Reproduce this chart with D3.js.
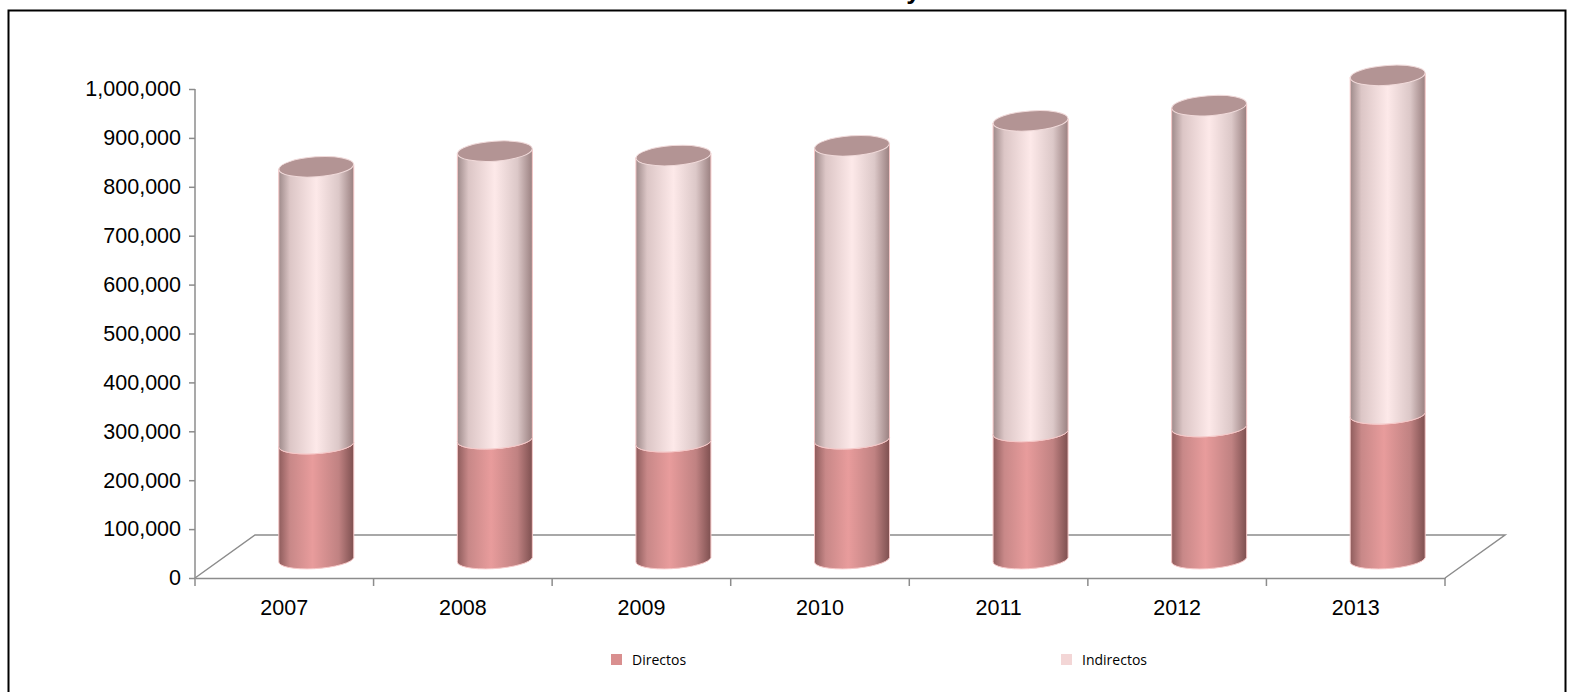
<!DOCTYPE html>
<html><head><meta charset="utf-8">
<script src="https://cdn.jsdelivr.net/npm/d3@7"></script>
<style>body{margin:0;background:#fff}</style>
</head><body>
<svg id="chart" width="1574" height="692"></svg>
<script>
var years = ["2007","2008","2009","2010","2011","2012","2013"];
var directos = [235000, 245000, 239000, 245000, 260000, 270000, 296000];
var indirectos = [568000, 590000, 587000, 601000, 637000, 658000, 694000];
var yTicks = [0,100000,200000,300000,400000,500000,600000,700000,800000,900000,1000000];

var svg = d3.select("#chart");
var plotLeft = 195, plotRight = 1445, plotBottom = 578, plotTop = 89;
var dx = 60, dy = -43; // floor depth
var x = d3.scaleBand().domain(years).range([plotLeft, plotRight]);
var y = d3.scaleLinear().domain([0, 1000000]).range([plotBottom, plotTop]);

svg.append("rect").attr("x", 8.5).attr("y", 10.5).attr("width", 1557).attr("height", 700)
  .attr("fill", "none").attr("stroke", "#000").attr("stroke-width", 2);
svg.append("text").attr("x", 890).attr("y", -1).attr("text-anchor", "middle")
  .attr("font-family", "Liberation Sans").attr("font-weight", "bold").attr("font-size", 26)
  .text("Total Directos y Indirectos");

// gradients
var defs = svg.append("defs");
function grad(id, stops) {
  var g = defs.append("linearGradient").attr("id", id);
  stops.forEach(function(s) { g.append("stop").attr("offset", s[0]).attr("stop-color", s[1]); });
}
grad("gDir", [[0,"#8e5c5c"],[0.15,"#c88888"],[0.45,"#e89c9c"],[0.8,"#c08282"],[1,"#7e5050"]]);
grad("gInd", [[0,"#9e8a8a"],[0.15,"#dcc6c6"],[0.5,"#fde9e9"],[0.8,"#dcc8c8"],[1,"#9a8080"]]);

// floor
var grey = "#8c8c8c";
svg.append("path").attr("fill", "none").attr("stroke", grey).attr("stroke-width", 1.5)
  .attr("d", "M" + plotLeft + "," + plotBottom + "L" + (plotLeft + dx) + "," + (plotBottom + dy) +
    "L" + (plotRight + dx) + "," + (plotBottom + dy) + "L" + plotRight + "," + plotBottom);

// y axis
var yAxis = svg.append("g").attr("transform", "translate(" + plotLeft + ",0)")
  .call(d3.axisLeft(y).tickValues(yTicks).tickSize(6).tickPadding(8).tickFormat(d3.format(",")));
yAxis.selectAll("text").attr("font-family", "Liberation Sans").attr("font-size", 21.5).attr("fill", "#000");
yAxis.selectAll("line,path").attr("stroke", grey).attr("stroke-width", 1.5);
yAxis.select(".domain").attr("d", "M0," + plotTop + "V" + plotBottom);

// x axis
var xAxis = svg.append("g").attr("transform", "translate(0," + plotBottom + ")")
  .call(d3.axisBottom(x).tickSize(0).tickPadding(22));
xAxis.selectAll("text").attr("font-family", "Liberation Sans").attr("font-size", 21.5).attr("fill", "#000");
xAxis.select(".domain").attr("stroke", grey).attr("stroke-width", 1.5);
years.concat(["end"]).forEach(function(d, i) {
  var xx = plotLeft + i * x.bandwidth();
  xAxis.append("line").attr("x1", xx).attr("x2", xx).attr("y1", 0).attr("y2", 8)
    .attr("stroke", grey).attr("stroke-width", 1.5);
});

// cylinders
var rx = 37.5, ry = 9, base = plotBottom + dy / 2;
var h = function(v) { return y(0) - y(v); };
years.forEach(function(d, i) {
  var cx = x(d) + x.bandwidth() / 2 + dx / 2 + 2;
  var g = svg.append("g");
  var y0 = base + 3, y1 = y0 - h(directos[i]), y2 = y1 - h(indirectos[i]);
  function seg(ya, yb, fill) {
    g.append("path").attr("fill", fill).attr("stroke", "#f6c8c8").attr("stroke-width", 1)
      .attr("d", "M" + (cx - rx) + "," + (yb + 2) + "L" + (cx - rx) + "," + (ya + 2) +
        "A" + rx + "," + ry + " -4 0 0 " + (cx + rx) + "," + (ya - 2) +
        "L" + (cx + rx) + "," + (yb - 2) +
        "A" + rx + "," + ry + " -4 0 1 " + (cx - rx) + "," + (yb + 2) + "Z");
  }
  seg(y0, y1, "url(#gDir)");
  seg(y1, y2, "url(#gInd)");
  g.append("ellipse").attr("cx", cx).attr("cy", y2).attr("rx", rx).attr("ry", ry + 1)
    .attr("transform", "rotate(-4," + cx + "," + y2 + ")")
    .attr("fill", "#b39494").attr("stroke", "#f0dada").attr("stroke-width", 1);
});

// legend
var legend = [["Directos", "#d98f8f", 611], ["Indirectos", "#f3d6d6", 1061]];
legend.forEach(function(l) {
  svg.append("rect").attr("x", l[2]).attr("y", 654).attr("width", 11).attr("height", 11).attr("fill", l[1]);
  svg.append("text").attr("x", l[2] + 21).attr("y", 665).attr("font-family", "Open Sans")
    .attr("font-size", 14).attr("fill", "#000").text(l[0]);
});
</script>
</body></html>
